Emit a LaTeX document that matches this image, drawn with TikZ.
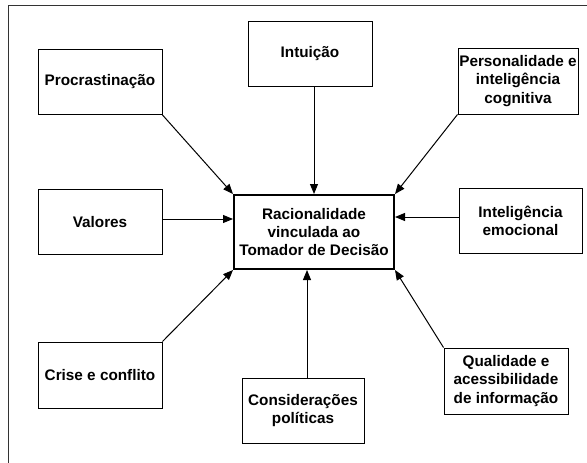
\documentclass[tikz,border=0pt]{standalone}
\usepackage{fontspec}
\setmainfont{Liberation Sans}
\usetikzlibrary{arrows.meta}
\tikzset{
  box/.style={draw, line width=1pt, minimum width=124pt, minimum height=65pt, align=center, inner sep=1pt,
    font=\fontsize{15.3}{18.3}\selectfont\bfseries},
  mainbox/.style={box, line width=2pt, minimum width=160pt, minimum height=74pt},
  arr/.style={line width=1pt, -{Triangle[length=10pt,width=8pt]}},
  frame/.style={line width=1.3pt, draw=black!80}
}
\begin{document}
\begin{tikzpicture}[x=1pt,y=-1pt]
\useasboundingbox (0,0) rectangle (587,463);
% outer frame
\coordinate (ftl) at (8.5,5.5);
\coordinate (ftr) at (600,5.5);
\coordinate (fbl) at (8.5,480);
\draw[frame] (fbl) -- (ftl) -- (ftr);
% nodes
\node[mainbox] (cent) at (314,232) {Racionalidade\\vinculada ao\\Tomador de Decisão};
\node[box] (proc) at (100,82) {Procrastinação};
\node[box] (intu) at (310,53.5) {Intuição};
\node[box, minimum width=120pt, minimum height=66pt] (pers) at (518,81) {Personalidade e\\inteligência\\cognitiva};
\node[box] (valo) at (100,222) {Valores};
\node[box, minimum width=123pt] (emoc) at (520.5,221) {Inteligência\\emocional};
\node[box, minimum height=66pt] (cris) at (100,375) {Crise e conflito};
\node[box, minimum width=122pt] (cons) at (303,410.5) {Considerações\\políticas};
\node[box, minimum height=66pt] (qual) at (506,381) {Qualidade e\\acessibilidade\\de informação};
% connectors
\draw[arr] (proc.south east) -- (cent.north west);
\draw[arr] (intu.south -| cent.north) -- (cent.north);
\draw[arr] (pers.south west) -- (cent.north east);
\draw[arr] ([yshift=3pt]valo.east) -- ([yshift=3pt]valo.east -| cent.west);
\draw[arr] ([yshift=4pt]emoc.west) -- ([yshift=4pt]emoc.west -| cent.east);
\draw[arr] (cris.north east) -- (cent.south west);
\draw[arr] ([xshift=4pt]cons.north) -- ([xshift=4pt]cons.north |- cent.south);
\draw[arr] (qual.north west) -- (cent.south east);
\end{tikzpicture}
\end{document}
